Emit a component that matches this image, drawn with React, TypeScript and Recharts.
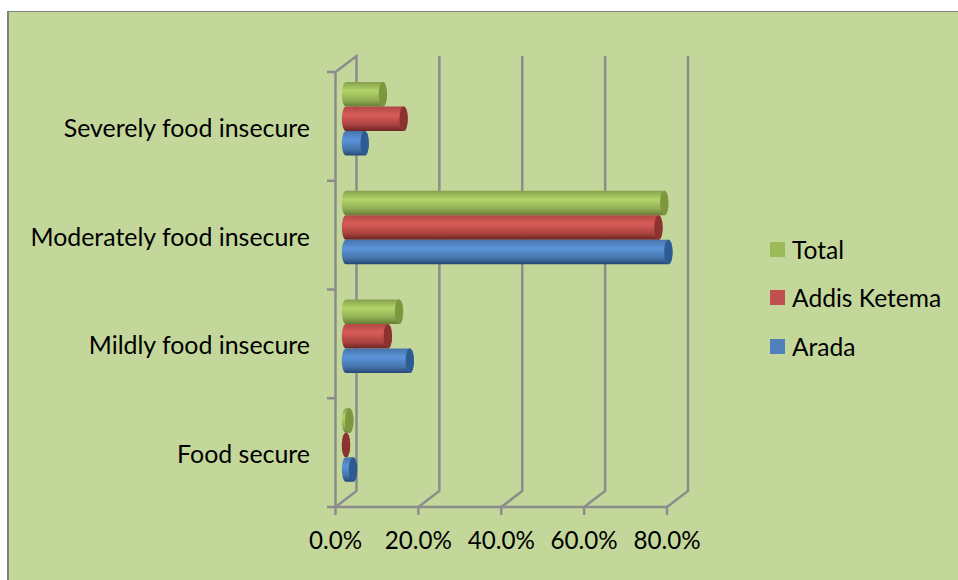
import { Bar, BarChart, CartesianGrid, Legend, XAxis, YAxis } from "recharts";

const categories = ["Severely food insecure", "Moderately food insecure", "Mildly food insecure", "Food secure"];
const total = [8.9, 76.8, 12.8, 0.8];
const addisKetema = [13.9, 75.4, 10.1, 0];
const arada = [4.5, 77.8, 15.4, 1.7];
const xTicks = [0, 20, 40, 60, 80];

const data = categories.map((name, i) => ({
  name,
  total: total[i],
  addisKetema: addisKetema[i],
  arada: arada[i],
}));

const series = [
  { key: "total", name: "Total", color: "#9bbb59", cap: "#7d973f", stops: ["#84a04c", "#b2d568", "#8fac52", "#667c36"] },
  { key: "addisKetema", name: "Addis Ketema", color: "#c0504d", cap: "#8c3230", stops: ["#b04845", "#d95c58", "#a8423f", "#6b2523"] },
  { key: "arada", name: "Arada", color: "#4f81bd", cap: "#2f5b93", stops: ["#4674aa", "#5a94d9", "#4675ac", "#264873"] },
];

const WIDTH = 958;
const HEIGHT = 580;
const X_AXIS_HEIGHT = 73;
const Y_AXIS_WIDTH = 335.5;
const LEGEND_WIDTH = 188;
const MARGIN = { top: 72, right: 291 - LEGEND_WIDTH, bottom: 0, left: 0 };
const BAND = (HEIGHT - MARGIN.top - X_AXIS_HEIGHT) / categories.length;
const FONT = "Lato, sans-serif";
const LABEL_SIZE = 24.9;
const TICK_SIZE = 24.2;
const LEGEND_SIZE = 24.6;
const AXIS_GREY = "#8c8c8c";
const AXIS_WIDTH = 2.5;

// the fake 3D floor offset between the front axis and the back wall
const DEPTH_X = 21;
const DEPTH_Y = 16;

function Cylinder(props: any) {
  const { x, y, width, height, seriesKey, cap } = props;
  const rx = 4.2;
  const ry = height / 2;
  const left = x + DEPTH_X / 2;
  const cy = y + ry - DEPTH_Y / 2;
  const right = left + width;
  const top = cy - ry;
  const body = `M${left} ${top} L${right} ${top} A${rx} ${ry} 0 0 1 ${right} ${top + height} L${left} ${top + height} A${rx} ${ry} 0 0 1 ${left} ${top} Z`;
  return (
    <g>
      <path d={body} fill={`url(#cyl-${seriesKey})`} />
      <ellipse cx={right} cy={cy} rx={rx} ry={ry} fill={cap} />
    </g>
  );
}

// floor diagonal plus the upright on the back wall; the first one also closes the side wall
function WallLine(props: any) {
  const { x1, y1, y2 } = props;
  const bottom = Math.max(y1, y2);
  const top = Math.min(y1, y2);
  const points = [
    [x1, bottom],
    [x1 + DEPTH_X, bottom - DEPTH_Y],
    [x1 + DEPTH_X, top - DEPTH_Y],
  ];
  if (x1 === Y_AXIS_WIDTH) points.push([x1, top]);
  return <polyline points={points.map((p) => p.join(",")).join(" ")} fill="none" stroke={AXIS_GREY} strokeWidth={AXIS_WIDTH} />;
}

function CategoryTick(props: any) {
  const { x, y, payload, index } = props;
  return (
    <g>
      <line x1={x + 17} x2={x + 25} y1={y - BAND / 2} y2={y - BAND / 2} stroke={AXIS_GREY} strokeWidth={AXIS_WIDTH} />
      {index === categories.length - 1 && (
        <line x1={x + 17} x2={x + 25} y1={y + BAND / 2} y2={y + BAND / 2} stroke={AXIS_GREY} strokeWidth={AXIS_WIDTH} />
      )}
      <text x={x} y={y + 0.5} textAnchor="end" dominantBaseline="central" fontFamily={FONT} fontSize={LABEL_SIZE} fill="#000">
        {payload.value}
      </text>
    </g>
  );
}

function LegendList() {
  return (
    <div style={{ fontFamily: FONT, fontSize: LEGEND_SIZE, color: "#000" }}>
      {series.map((s) => (
        <div key={s.key} style={{ display: "flex", alignItems: "center", height: 48.5 }}>
          <span style={{ width: 15, height: 15, background: s.color, marginRight: 7 }} />
          {s.name}
        </div>
      ))}
    </div>
  );
}

export default function App() {
  return (
    <div style={{ position: "absolute", left: 0, top: 0, width: WIDTH, height: HEIGHT, background: "#fff", overflow: "hidden" }}>
      <div
        style={{
          position: "absolute",
          left: 7,
          top: 11,
          width: WIDTH,
          height: HEIGHT,
          background: "#c4d79b",
          borderLeft: "2px solid #808080",
          borderTop: "1px solid #808080",
        }}
      />
      <div style={{ position: "absolute", left: 0, top: 0 }}>
        <BarChart
          width={WIDTH}
          height={HEIGHT}
          data={data}
          layout="vertical"
          margin={MARGIN}
          barSize={24.5}
          barGap={0}
        >
          <defs>
            {series.map((s) => (
              <linearGradient key={s.key} id={`cyl-${s.key}`} x1="0" y1="0" x2="0" y2="1">
                <stop offset="0%" stopColor={s.stops[0]} />
                <stop offset="35%" stopColor={s.stops[1]} />
                <stop offset="75%" stopColor={s.stops[2]} />
                <stop offset="100%" stopColor={s.stops[3]} />
              </linearGradient>
            ))}
          </defs>
          <CartesianGrid horizontal={false} vertical={(p: any) => <WallLine key={p.key} {...p} />} />
          <XAxis
            type="number"
            domain={[0, 80]}
            ticks={xTicks}
            tickFormatter={(v: number) => `${v.toFixed(1)}%`}
            interval={0}
            height={X_AXIS_HEIGHT}
            stroke={AXIS_GREY}
            strokeWidth={AXIS_WIDTH}
            tickSize={8}
            tickMargin={17}
            tick={{ fontFamily: FONT, fontSize: TICK_SIZE, fill: "#000" }}
          />
          <YAxis
            type="category"
            dataKey="name"
            width={Y_AXIS_WIDTH}
            stroke={AXIS_GREY}
            strokeWidth={AXIS_WIDTH}
            tickLine={false}
            tickMargin={0}
            interval={0}
            tick={(p: any) => <CategoryTick {...p} x={310} />}
          />
          {series.map((s) => (
            <Bar
              key={s.key}
              dataKey={s.key}
              name={s.name}
              fill={s.color}
              isAnimationActive={false}
              shape={(p: any) => <Cylinder {...p} seriesKey={s.key} cap={s.cap} />}
            />
          ))}
          <Legend
            layout="vertical"
            align="right"
            verticalAlign="top"
            content={<LegendList />}
            wrapperStyle={{ left: 770, top: 225, width: LEGEND_WIDTH }}
          />
        </BarChart>
      </div>
    </div>
  );
}
